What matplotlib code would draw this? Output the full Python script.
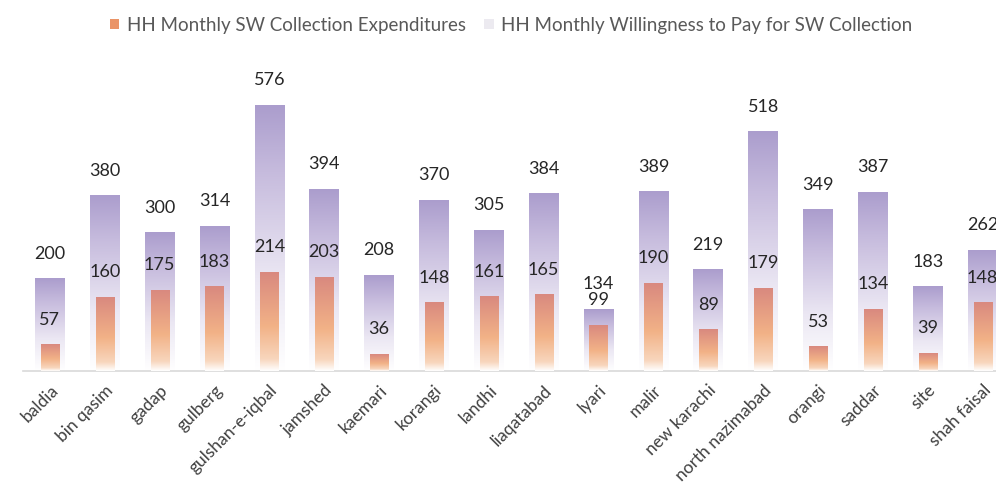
import numpy as np
import matplotlib
matplotlib.use("Agg")
import matplotlib.pyplot as plt
from matplotlib.colors import LinearSegmentedColormap
from matplotlib.patches import Patch

plt.rcParams["font.family"] = ["Lato", "DejaVu Sans"]

towns = [
    "baldia", "bin qasim", "gadap", "gulberg", "gulshan-e-iqbal", "jamshed",
    "kaemari", "korangi", "landhi", "liaqatabad", "lyari", "malir",
    "new karachi", "north nazimabad", "orangi", "saddar", "site", "shah faisal",
]
expenditure = [57, 160, 175, 183, 214, 203, 36, 148, 161, 165, 99, 190, 89, 179, 53, 134, 39, 148]
willingness = [200, 380, 300, 314, 576, 394, 208, 370, 305, 384, 134, 389, 219, 518, 349, 387, 183, 262]

label_exp = "HH Monthly SW Collection Expenditures"
label_wtp = "HH Monthly Willingness to Pay for SW Collection"

# vertical fades, index 0 = bottom of the bar, last = top
purple_fade = LinearSegmentedColormap.from_list(
    "purple_fade", [(0.0, "#ffffff"), (0.35, "#ebe7f3"), (0.75, "#c6bbdd"), (1.0, "#ab9dcd")])
orange_fade = LinearSegmentedColormap.from_list(
    "orange_fade", [(0.0, "#ffffff"), (0.12, "#f8d6bd"), (0.45, "#f2b287"), (1.0, "#d9897f")])

fig = plt.figure(figsize=(9.96, 4.98), dpi=100)
ax = fig.add_axes([22.5 / 996, 127 / 498, 987.5 / 996, 323 / 498])

x = np.arange(len(towns))
back = ax.bar(x, willingness, width=0.54, color="none", zorder=1)
front = ax.bar(x, expenditure, width=0.33, color="none", zorder=3)

grad = np.linspace(0, 1, 256).reshape(-1, 1)


def fill_bars(bars, cmap, z):
    for b in bars:
        x0, w, h = b.get_x(), b.get_width(), b.get_height()
        ax.imshow(grad, cmap=cmap, origin="lower", aspect="auto",
                  extent=(x0, x0 + w, 0, h), zorder=z, interpolation="bilinear")


fill_bars(back, purple_fade, 1)
fill_bars(front, orange_fade, 3)

for bars, vals in ((back, willingness), (front, expenditure)):
    for b, v in zip(bars, vals):
        ax.annotate(str(v), (b.get_x() + b.get_width() / 2, v), xytext=(0, 18),
                    textcoords="offset points", ha="center", va="center",
                    fontsize=13, color="#262626", zorder=5)

ax.set_xlim(-0.5, len(towns) - 0.5)
ax.set_ylim(0, 700)
ax.set_yticks([])
for side in ("left", "right", "top"):
    ax.spines[side].set_visible(False)
ax.spines["bottom"].set_color("#d9d9d9")
ax.spines["bottom"].set_linewidth(1.2)

ax.set_xticks(x)
ax.set_xticklabels(towns, rotation=45, ha="right", rotation_mode="anchor",
                   fontsize=12.5, color="#404040")
ax.tick_params(axis="x", length=0, pad=8)

handles = [Patch(facecolor="#ea9467", edgecolor="none", label=label_exp),
           Patch(facecolor="#eceaf0", edgecolor="none", label=label_wtp)]
fig.legend(handles=handles, loc="center", bbox_to_anchor=(511 / 996, 1 - 25 / 498),
           ncol=2, frameon=False, fontsize=13.5, labelcolor="#595959",
           handlelength=0.5, handleheight=0.45, handletextpad=0.4, columnspacing=1.0)

fig.savefig("out.png", dpi=100)
